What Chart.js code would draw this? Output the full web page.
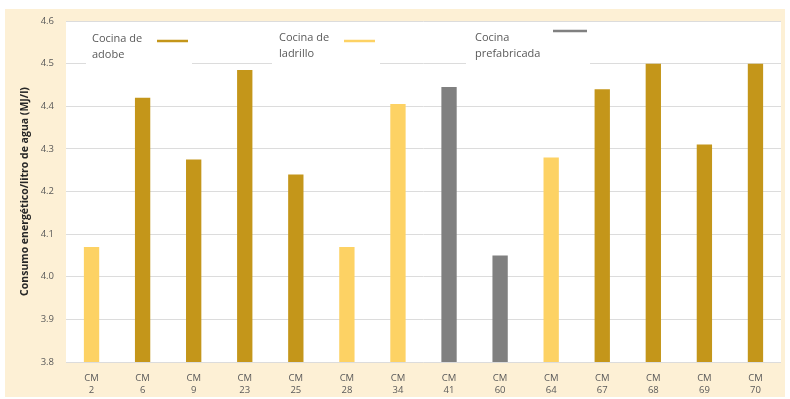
<!DOCTYPE html>
<html>
<head>
<meta charset="utf-8">
<script src="https://cdn.jsdelivr.net/npm/chart.js@4/dist/chart.umd.min.js"></script>
<style>
  html, body { margin: 0; padding: 0; background: #ffffff; }
  #wrap { position: absolute; left: 0; top: 0; width: 790px; height: 399px; }
</style>
</head>
<body>
<div id="wrap"><canvas id="grafico"></canvas></div>
<script>
// Muestras medidas
const muestras = ['2', '6', '9', '23', '25', '28', '34', '41', '60', '64', '67', '68', '69', '70'];
// Consumo energético por litro de agua (MJ/l)
const consumo = [4.07, 4.42, 4.275, 4.485, 4.24, 4.07, 4.405, 4.445, 4.05, 4.28, 4.44, 4.5, 4.31, 4.5];
// Tipo de cocina de cada muestra
const tipoCocina = ['ladrillo', 'adobe', 'adobe', 'adobe', 'adobe', 'ladrillo', 'ladrillo',
  'prefabricada', 'prefabricada', 'ladrillo', 'adobe', 'adobe', 'adobe', 'adobe'];
const ticksY = [3.8, 3.9, 4.0, 4.1, 4.2, 4.3, 4.4, 4.5, 4.6];

const colores = { adobe: '#c4961a', ladrillo: '#fdd264', prefabricada: '#808080' };
const fuente = "'Open Sans', 'Liberation Sans', sans-serif";

// Fondo crema exterior y área de trazado blanca
const fondo = {
  id: 'fondo',
  beforeDraw(chart) {
    const { ctx, chartArea: a } = chart;
    ctx.save();
    ctx.fillStyle = '#fdf0d5';
    ctx.fillRect(5, 9, 780, 388);
    ctx.fillStyle = '#ffffff';
    ctx.fillRect(a.left, a.top, a.right - a.left, a.bottom - a.top);
    ctx.restore();
  }
};

// Leyenda dibujada a mano dentro del área de trazado
const leyenda = {
  id: 'leyenda',
  afterDatasetsDraw(chart) {
    const { ctx } = chart;
    const items = [
      { lineas: ['Cocina de', 'adobe'], x: 92, y: 39, caja: [86, 28, 106, 40], trazo: [157, 188, 41], color: colores.adobe },
      { lineas: ['Cocina de', 'ladrillo'], x: 279, y: 38, caja: [272, 27, 108, 40], trazo: [344, 375, 41], color: colores.ladrillo },
      { lineas: ['Cocina', 'prefabricada'], x: 475, y: 38, caja: [466, 24, 124, 44], trazo: [553, 587, 31], color: colores.prefabricada }
    ];
    ctx.save();
    items.forEach(it => {
      ctx.fillStyle = '#ffffff';
      ctx.fillRect(...it.caja);
      ctx.fillStyle = '#595959';
      ctx.font = '11px ' + fuente;
      ctx.textBaseline = 'middle';
      ctx.textAlign = 'left';
      it.lineas.forEach((t, i) => ctx.fillText(t, it.x, it.y + i * 16));
      ctx.strokeStyle = it.color;
      ctx.lineWidth = 2.5;
      ctx.beginPath();
      ctx.moveTo(it.trazo[0], it.trazo[2]);
      ctx.lineTo(it.trazo[1], it.trazo[2]);
      ctx.stroke();
    });
    ctx.restore();
  }
};

new Chart(document.getElementById('grafico'), {
  type: 'bar',
  data: {
    labels: muestras.map(m => ['CM', m]),
    datasets: [{
      data: consumo,
      backgroundColor: tipoCocina.map(t => colores[t]),
      barPercentage: 0.6,
      categoryPercentage: 0.5
    }]
  },
  options: {
    responsive: true,
    maintainAspectRatio: false,
    animation: false,
    layout: { padding: { left: 5, right: 9, top: 21, bottom: 2 } },
    plugins: { legend: { display: false }, tooltip: { enabled: false } },
    scales: {
      x: {
        grid: { display: false },
        border: { display: false },
        ticks: { color: '#595959', font: { family: fuente, size: 9.5, lineHeight: 1.3 }, padding: 2, maxRotation: 0 },
        afterFit(s) { s.height = 35; }
      },
      y: {
        min: 3.8,
        max: 4.6,
        afterBuildTicks(s) { s.ticks = ticksY.map(v => ({ value: v })); },
        grid: { color: '#dcdcdc', drawTicks: false },
        border: { display: false },
        ticks: {
          color: '#595959',
          font: { family: fuente, size: 9.5 },
          padding: 12,
          callback: v => v.toFixed(1)
        },
        title: {
          display: true,
          text: 'Consumo energético/litro de agua (MJ/l)',
          color: '#262626',
          font: { family: fuente, size: 10.5, weight: 'bold' },
          padding: { top: 14, bottom: 0 }
        },
        afterFit(s) { s.width = 61; }
      }
    }
  },
  plugins: [fondo, leyenda]
});
</script>
</body>
</html>
